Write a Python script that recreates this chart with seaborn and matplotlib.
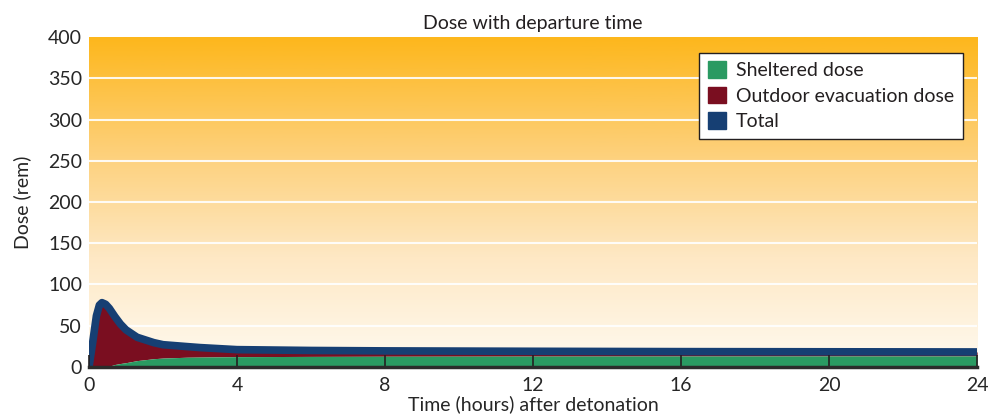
import numpy as np
import pandas as pd
import seaborn as sns
import matplotlib.pyplot as plt
from matplotlib.colors import LinearSegmentedColormap
from matplotlib.patches import Patch

# data
hours = [0.0, 0.1, 0.2, 0.28, 0.35, 0.45, 0.55, 0.7, 0.85, 1.0, 1.3, 1.75, 2.0, 2.65, 3.0, 4.0, 6.0, 8.0, 12.0, 16.0, 20.0, 24.0]
total = [0, 30, 62, 75, 78, 76, 71, 61, 52, 45, 36, 29.5, 27, 24.7, 23.5, 21, 20, 19.5, 19, 18.6, 18.4, 18.2]
sheltered = [0, 0, 0, 0.2, 0.4, 0.7, 1, 3, 4.2, 5.2, 7.7, 10, 10.8, 11.8, 12, 12.5, 12.8, 13, 13.2, 13.3, 13.35, 13.4]

df = pd.DataFrame({"hours": hours, "total": total, "sheltered": sheltered})

green = "#2a9a62"
red = "#7a0e20"
blue = "#163f73"

sns.set_style("white")
plt.rcParams['font.family'] = ['Lato', 'DejaVu Sans']
plt.rcParams['text.color'] = '#231f20'

fig, ax = plt.subplots(figsize=(9.89, 4.17), dpi=100)
fig.subplots_adjust(left=0.09, right=0.988, top=0.911, bottom=0.12)

# background gradient
cmap = LinearSegmentedColormap.from_list("bg", ["#fffaf0", "#fee8c4", "#fdcf76", "#fdb71c"])
grad = np.linspace(0, 1, 256).reshape(-1, 1)
ax.imshow(grad, aspect='auto', cmap=cmap, origin='lower', extent=[0, 24, 0, 400], zorder=0)

for yv in range(50, 400, 50):
    ax.axhline(yv, color='white', lw=1.5, alpha=0.9, zorder=1)

ax.fill_between(df["hours"], df["sheltered"], df["total"], color=red, lw=0, zorder=2)
ax.fill_between(df["hours"], 0, df["sheltered"], color=green, lw=0, zorder=3)
sns.lineplot(data=df, x="hours", y="total", color=blue, lw=5.5, ax=ax, zorder=4,
             solid_joinstyle='round', solid_capstyle='butt')

ax.set_xlim(0, 24)
ax.set_ylim(0, 400)
ax.set_xticks(range(0, 25, 4))
ax.set_yticks(range(0, 401, 50))
ax.tick_params(axis='x', bottom=True, direction='in', length=8.5, width=1.2,
               color='#231f20', labelsize=14, pad=7)
ax.tick_params(axis='y', left=False, length=0, labelsize=14, pad=5)
ax.xaxis.set_zorder(5)

for s in ['top', 'right', 'left']:
    ax.spines[s].set_visible(False)
ax.spines['bottom'].set_color('#2b2b2b')
ax.spines['bottom'].set_linewidth(2.5)
ax.spines['bottom'].set_zorder(6)

ax.set_xlabel("Time (hours) after detonation", fontsize=14, labelpad=1)
ax.set_ylabel("Dose (rem)", fontsize=14, labelpad=12)
ax.set_title("Dose with departure time", fontsize=14, pad=6)

handles = [Patch(color=green, label="Sheltered dose"),
           Patch(color=red, label="Outdoor evacuation dose"),
           Patch(color=blue, label="Total")]
leg = ax.legend(handles=handles, loc='upper right', bbox_to_anchor=(0.984, 0.953),
                fontsize=14, frameon=True, fancybox=False, framealpha=1, handlelength=0.95,
                handleheight=0.95, handletextpad=0.5, borderpad=0.45, labelspacing=0.37,
                borderaxespad=0)
leg.get_frame().set_edgecolor('#231f20')
leg.get_frame().set_linewidth(1.0)
leg.set_zorder(7)

fig.savefig("out.png", dpi=100)
